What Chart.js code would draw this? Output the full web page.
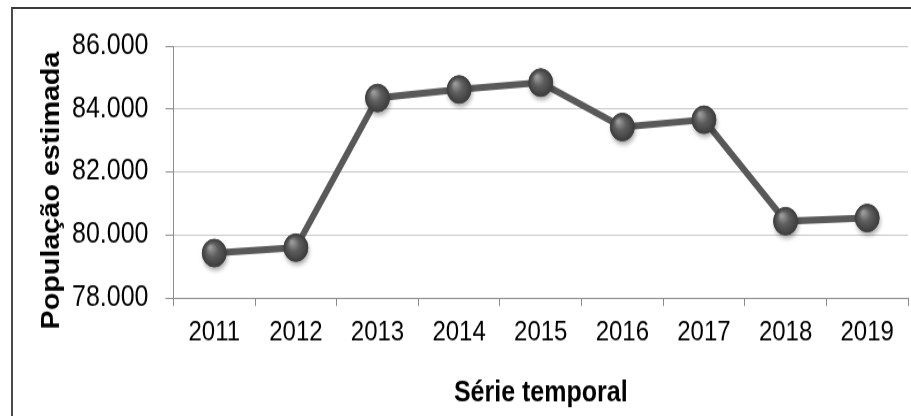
<!DOCTYPE html>
<html lang="pt-BR">
<head>
<meta charset="utf-8">
<title>População estimada</title>
<script src="https://cdn.jsdelivr.net/npm/chart.js@4/dist/chart.umd.min.js"></script>
<style>
  html, body { margin: 0; padding: 0; background: #fff; overflow: hidden; }
  body { width: 911px; height: 416px; position: relative; }
  /* moldura do gráfico (sai pela direita e por baixo, como no original) */
  .moldura {
    position: absolute; left: 11px; top: 7px; width: 1000px; height: 1000px;
    border-left: 2px solid #4a4a4a; border-top: 2px solid #3a3a3a;
  }
  /* o original está esticado na vertical, por isso o scaleY */
  .area {
    position: absolute; left: 0; top: 0; width: 911px; height: 362px;
    transform: scaleY(1.15); transform-origin: 0 0;
  }
</style>
</head>
<body>
<div class="moldura"></div>
<div class="area"><canvas id="grafico"></canvas></div>

<script>
// Dados
const anos = ['2011', '2012', '2013', '2014', '2015', '2016', '2017', '2018', '2019'];
const populacao = [79430, 79600, 84350, 84620, 84840, 83430, 83660, 80440, 80540];
const ticksY = [78000, 80000, 82000, 84000, 86000];

const fonte = "'Liberation Sans', Arial, sans-serif";

// separador de milhar com ponto (86.000)
function formatarMilhar(v) {
  return String(v).replace(/\B(?=(\d{3})+(?!\d))/g, '.');
}

// Bolinhas com aspecto de esfera, desenhadas nas posições calculadas pelo Chart.js
const esferas = {
  id: 'esferas',
  afterDatasetsDraw(chart) {
    const ctx = chart.ctx;
    const meta = chart.getDatasetMeta(0);
    const r = 12;
    meta.data.forEach(pt => {
      const x = pt.x, y = pt.y;
      ctx.save();
      ctx.shadowColor = 'rgba(0,0,0,0.35)';
      ctx.shadowBlur = 4;
      ctx.shadowOffsetX = 1;
      ctx.shadowOffsetY = 3;
      ctx.beginPath();
      ctx.arc(x, y, r, 0, Math.PI * 2);
      ctx.fillStyle = '#4f4f4f';
      ctx.fill();
      ctx.restore();

      ctx.save();
      const g = ctx.createRadialGradient(x - 4, y - 5, 1, x, y, r);
      g.addColorStop(0, '#9a9a9a');
      g.addColorStop(0.45, '#5e5e5e');
      g.addColorStop(1, '#3c3c3c');
      ctx.beginPath();
      ctx.arc(x, y, r, 0, Math.PI * 2);
      ctx.fillStyle = g;
      ctx.fill();
      ctx.lineWidth = 1;
      ctx.strokeStyle = '#404040';
      ctx.stroke();
      ctx.restore();
    });
  }
};

// Título do eixo Y (um pouco abaixo do centro, como no original)
const tituloY = {
  id: 'tituloY',
  afterDraw(chart) {
    const ctx = chart.ctx;
    const area = chart.chartArea;
    ctx.save();
    ctx.translate(52, (area.top + area.bottom) / 2 + 16);
    ctx.rotate(-Math.PI / 2);
    ctx.font = 'bold 25px ' + fonte;
    ctx.fillStyle = '#000';
    ctx.textAlign = 'center';
    ctx.textBaseline = 'middle';
    ctx.fillText('População estimada', 0, 0);
    ctx.restore();
  }
};

window.onload = function() {
  const ctx = document.getElementById('grafico').getContext('2d');
  new Chart(ctx, {
    type: 'line',
    data: {
      labels: anos,
      datasets: [{
        label: 'População estimada',
        data: populacao,
        borderColor: '#595959',
        borderWidth: 6,
        tension: 0,
        pointRadius: 0,
        fill: false
      }]
    },
    options: {
      responsive: true,
      maintainAspectRatio: false,
      animation: false,
      layout: { padding: { left: 55, right: 0, top: 40, bottom: 1 } },
      plugins: {
        legend: { display: false },
        tooltip: { enabled: false }
      },
      scales: {
        x: {
          type: 'category',
          offset: true,
          grid: { offset: true, drawOnChartArea: false, drawTicks: true, tickLength: 7, color: '#8c8c8c' },
          border: { display: true, color: '#8c8c8c', width: 1 },
          ticks: { font: { family: fonte, size: 24 }, color: '#000', padding: 8.5, maxRotation: 0, autoSkip: false },
          title: {
            display: true,
            text: 'Série temporal',
            color: '#000',
            font: { family: fonte, size: 25, weight: 'bold' },
            padding: { top: 15, bottom: 4 }
          }
        },
        y: {
          min: 78000,
          max: 86000,
          afterBuildTicks: scale => { scale.ticks = ticksY.map(v => ({ value: v })); },
          grid: { color: '#c6c6c6', tickColor: '#8c8c8c', tickLength: 8, drawTicks: true },
          border: { display: true, color: '#8c8c8c', width: 1 },
          ticks: {
            font: { family: fonte, size: 25 },
            color: '#000',
            padding: 17,
            callback: v => formatarMilhar(v)
          }
        }
      }
    },
    plugins: [esferas, tituloY]
  });
};
</script>
</body>
</html>
